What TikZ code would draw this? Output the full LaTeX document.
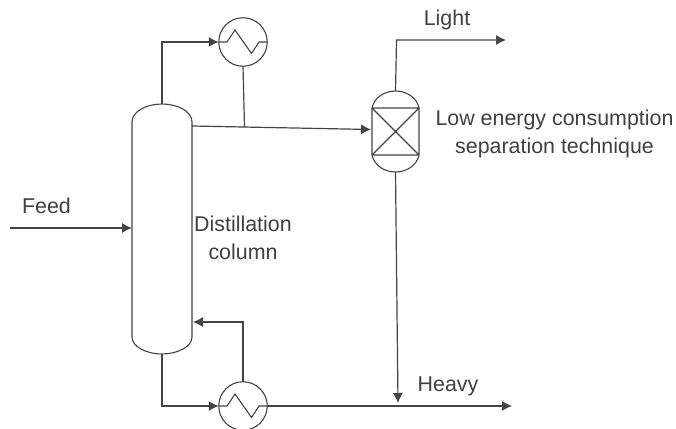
\documentclass[tikz,border=0pt]{standalone}
\usepackage{fontspec}
\setmainfont{Liberation Sans}
\usetikzlibrary{arrows.meta,calc}
\definecolor{ln}{HTML}{444444}
\definecolor{tx}{HTML}{404040}
\tikzset{
  x=1pt,y=-1pt,
  pipe/.style={draw=ln,line width=1.2pt},
  flow/.style={pipe,-{Latex[length=10pt,width=10pt]}},
  exch/.style={circle,draw=ln,line width=1.1pt,minimum size=48.5pt,inner sep=0pt,outer sep=0pt},
  lbl/.style={text=tx,font=\fontsize{21.4}{28}\selectfont,align=center,inner sep=0pt},
  box/.style={draw=none,inner sep=0pt,outer sep=0pt}
}
\begin{document}
\begin{tikzpicture}
\useasboundingbox (0,0) rectangle (676,428);
\clip (0,0) rectangle (676,428);
\fill[white] (0,0) rectangle (676,428);
% column
\node[box,minimum width=60pt,minimum height=250pt] (col) at (162,229) {};
\draw[ln,line width=1.1pt] (132,122) .. controls (132,111) and (147,104) .. (162,104)
  .. controls (177,104) and (192,111) .. (192,122) -- (192,337)
  .. controls (192,347) and (177,354) .. (162,354)
  .. controls (147,354) and (132,347) .. (132,337) -- cycle;
% exchangers
\node[exch] (top) at (243,42) {};
\node[exch] (bot) at (243,406) {};
\foreach \n in {top,bot}
  \draw[ln,line width=1.1pt] ($(\n.center)+(-24,0)$) -- ++(8,0) -- ++(8,-12) -- ++(16.5,23.5) -- ++(7.5,-11.5) -- ++(8,0);
% separator
\node[box,minimum width=47pt,minimum height=81pt] (sep) at (395.5,131.5) {};
\draw[ln,line width=1.1pt] (372,108) .. controls (374,98) and (384,91) .. (395.5,91)
  .. controls (407,91) and (417,98) .. (419,108) -- (419,155)
  .. controls (417,165) and (407,172) .. (395.5,172)
  .. controls (384,172) and (374,165) .. (372,155) -- cycle;
\draw[ln,line width=1.1pt] (372,108) -- (419,108) (372,155) -- (419,155)
  (372,108) -- (419,155) (372,155) -- (419,108);
% free ends and junctions
\coordinate (feedin) at (10,228);
\coordinate (feedend) at (132,228);
\coordinate (dist) at (192,126);
\coordinate (sepin) at (371,129.5);
\coordinate (tee) at (244.5,127);
\coordinate (lightend) at (506,40);
\coordinate (heavyend) at (512,406);
\coordinate (heavydrop) at (398,403);
\coordinate (refl) at (193,322);
% connectors
\draw[flow] (feedin) -- (feedend);
\draw[flow] (col.north) -- (162,42) -- (top.west);
\draw[flow] (dist) -- (sepin);
\draw[pipe] (top.south) -- (tee);
\draw[flow] (sep.north) -- (396.5,40) -- (lightend);
\draw[flow] (sep.south) -- (heavydrop);
\draw[flow] (col.south) -- (162,406) -- (bot.west);
\draw[flow] (bot.east) -- (heavyend);
\draw[flow] (bot.north) -- (243,322) -- (refl);
% labels
\node[lbl] (lfeed) at (46.5,206) {Feed};
\node[lbl] (ldist) at (243,238) {Distillation\\column};
\node[lbl] (llight) at (447,20) {Light};
\node[lbl] (lheavy) at (448,386) {Heavy};
\node[lbl] (lsep) at (554.5,134) {Low energy consumption\\separation technique};
\end{tikzpicture}
\end{document}
